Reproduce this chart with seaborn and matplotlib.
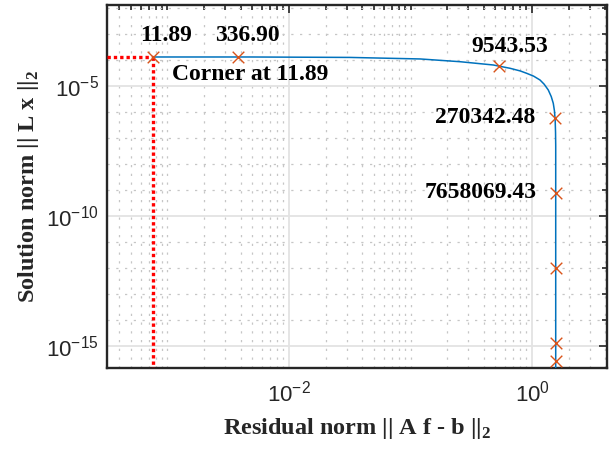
import matplotlib
matplotlib.use('Agg')
import matplotlib.pyplot as plt
import seaborn as sns
import pandas as pd
from matplotlib.ticker import FixedLocator, LogLocator, LogFormatterSciNotation, NullFormatter

# ---- data ----
curve_residual = [7.60e-4, 4.78e-3, 3.18e-2, 0.120, 0.255, 0.480, 0.659, 0.800, 0.904,
                  1.030, 1.164, 1.259, 1.361, 1.440, 1.496, 1.530, 1.552, 1.562, 1.567, 1.567]
curve_solution = [1.31e-4, 1.31e-4, 1.26e-4, 1.10e-4, 8.63e-5, 6.44e-5, 4.81e-5, 3.80e-5, 3.08e-5,
                  2.40e-5, 1.70e-5, 1.17e-5, 7.02e-6, 3.90e-6, 2.16e-6, 1.10e-6, 4.5e-7, 1.6e-7,
                  5.0e-8, 3.2e-17]

marker_residual = [7.60e-4, 3.80e-3, 0.538, 1.545, 1.567, 1.567, 1.567, 1.567]
marker_solution = [1.31e-4, 1.31e-4, 5.89e-5, 6.03e-7, 7.76e-10, 9.55e-13, 1.23e-15, 2.57e-16]
marker_labels = ["11.89", "336.90", "9543.53", "270342.48", "7658069.43"]

corner_residual = 7.60e-4
corner_solution = 1.31e-4
corner_text = "Corner at 11.89"

x_limits = (10 ** -3.498, 10 ** 0.617)
y_limits = (10 ** -15.88, 10 ** -1.88)
x_major = [1e-2, 1e0]
y_major = [1e-15, 1e-10, 1e-5]

# ---- style ----
sns.set_style("white")
plt.rcParams['font.family'] = ['Liberation Sans', 'DejaVu Sans']
GRAY = '#262626'

fig = plt.figure(figsize=(6.12, 4.49), dpi=100)
ax = fig.add_axes([0.1748, 0.1793, 0.8170, 0.8096])

curve_df = pd.DataFrame({"res": curve_residual, "sol": curve_solution})
mark_df = pd.DataFrame({"res": marker_residual, "sol": marker_solution})

ax.set_xscale('log')
ax.set_yscale('log')
ax.set_xlim(*x_limits)
ax.set_ylim(*y_limits)

# red dotted corner guides
ax.plot([x_limits[0], corner_residual], [corner_solution, corner_solution],
        color='#FF0000', linestyle=(0, (1.0, 0.9)), linewidth=2.4, zorder=3)
ax.plot([corner_residual, corner_residual], [corner_solution, y_limits[0]],
        color='#FF0000', linestyle=(0, (1.0, 0.9)), linewidth=2.4, zorder=3)

sns.lineplot(data=curve_df, x="res", y="sol", sort=False, estimator=None,
             color='#0072BD', linewidth=1.1, ax=ax, zorder=4)
sns.scatterplot(data=mark_df, x="res", y="sol", marker='x', s=70,
                color='#D95319', linewidth=1.0, ax=ax, zorder=5)

# labels next to markers
offsets = [(13, 21, 'center'), (9, 21, 'center'), (10, 19, 'center'),
           (-20, 0, 'right'), (-19, 0, 'right')]
for lab, xr, ys, (dx, dy, ha) in zip(marker_labels, marker_residual, marker_solution, offsets):
    ax.annotate(lab, (xr, ys), xytext=(dx, dy), textcoords='offset pixels',
                ha=ha, va='center', fontsize=17, fontweight='bold',
                family='Liberation Serif', color='black', zorder=6)
ax.annotate(corner_text, (corner_residual, corner_solution), xytext=(19, -18),
            textcoords='offset pixels', ha='left', va='center', fontsize=17,
            fontweight='bold', family='Liberation Serif', color='black', zorder=6)

# ticks
ax.xaxis.set_major_locator(FixedLocator(x_major))
ax.xaxis.set_minor_locator(LogLocator(base=10, subs=range(1, 10), numticks=50))
ax.yaxis.set_major_locator(FixedLocator(y_major))
ax.yaxis.set_minor_locator(LogLocator(base=10, subs=[1.0], numticks=50))
ax.xaxis.set_major_formatter(LogFormatterSciNotation())
ax.yaxis.set_major_formatter(LogFormatterSciNotation())
ax.xaxis.set_minor_formatter(NullFormatter())
ax.yaxis.set_minor_formatter(NullFormatter())

ax.tick_params(which='both', direction='in', top=True, right=True, colors=GRAY,
               labelsize=16, width=1.2)
ax.tick_params(which='major', length=6)
ax.tick_params(which='minor', length=3.5)
ax.tick_params(axis='x', which='major', pad=9)
ax.tick_params(axis='y', which='major', pad=6)
for lab in ax.get_xticklabels() + ax.get_yticklabels():
    lab.set_color(GRAY)

ax.grid(True, which='major', color='#e3e3e3', linewidth=1.3, linestyle='-')
ax.grid(True, which='minor', color='#c6c6c6', linewidth=0.9, linestyle=(0, (1.8, 5.2)))
ax.set_axisbelow(True)

for sp in ax.spines.values():
    sp.set_visible(True)
    sp.set_color(GRAY)
    sp.set_linewidth(1.7)

ax.set_xlabel(r'Residual norm || A f - b ||$_{\mathdefault{2}}$', fontsize=17.5,
              fontweight='bold', family='Liberation Serif', color=GRAY)
ax.set_ylabel(r'Solution norm || L x ||$_{\mathdefault{2}}$', fontsize=17.5,
              fontweight='bold', family='Liberation Serif', color=GRAY)
ax.xaxis.set_label_coords(0.5, -0.13)
ax.yaxis.set_label_coords(-0.132, 0.5)

fig.savefig('out.png', dpi=100)
